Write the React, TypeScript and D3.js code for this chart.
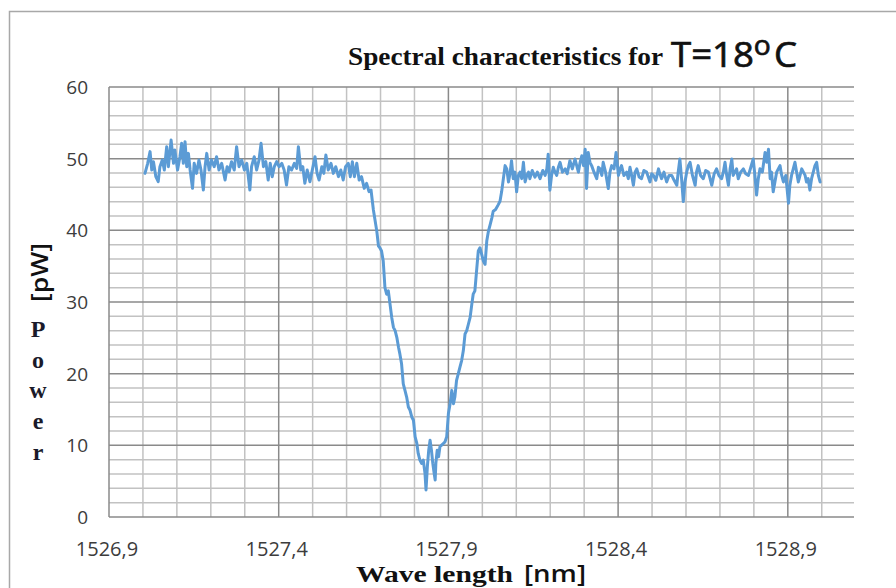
import React from "react";
import * as d3 from "d3";

// ---- Data ----
const leftWavelength = [
  1527.006, 1527.014, 1527.021, 1527.026, 1527.031, 1527.038, 1527.045, 1527.05, 1527.057, 1527.063,
  1527.07, 1527.075, 1527.083, 1527.09, 1527.094, 1527.102, 1527.109, 1527.114, 1527.119, 1527.124,
  1527.129, 1527.134, 1527.139, 1527.146, 1527.151, 1527.158, 1527.165, 1527.171, 1527.178, 1527.183,
  1527.188, 1527.195, 1527.202, 1527.21, 1527.217, 1527.224, 1527.232, 1527.242, 1527.248, 1527.254,
  1527.261, 1527.269, 1527.276, 1527.283, 1527.291, 1527.299, 1527.306, 1527.315, 1527.32, 1527.328,
  1527.335, 1527.342, 1527.348, 1527.355, 1527.362, 1527.369, 1527.375, 1527.381, 1527.387, 1527.394,
  1527.401, 1527.409, 1527.416, 1527.423, 1527.43, 1527.438, 1527.446, 1527.453, 1527.458, 1527.465,
  1527.471, 1527.477, 1527.484, 1527.492, 1527.499, 1527.507, 1527.513, 1527.519, 1527.527, 1527.533,
  1527.539, 1527.546, 1527.554, 1527.561, 1527.568, 1527.576, 1527.583, 1527.59, 1527.597, 1527.605,
  1527.611, 1527.617, 1527.623, 1527.63, 1527.637, 1527.644, 1527.652, 1527.659, 1527.666, 1527.672,
  1527.679,
];
const leftPower = [
  47.95, 49.35, 50.98, 48.42, 49.58, 47.49, 46.79, 48.88, 49.81, 48.42,
  51.67, 48.88, 52.6, 49.35, 51.21, 48.42, 50.28, 52.14, 49.35, 52.37,
  48.88, 50.74, 48.42, 45.86, 49.35, 47.95, 49.81, 48.42, 45.63, 48.88,
  50.74, 48.42, 49.81, 48.88, 50.28, 48.42, 49.35, 47.02, 48.88, 48.19,
  49.58, 48.42, 51.67, 48.88, 49.81, 48.42, 49.35, 45.63, 48.88, 50.28,
  48.42, 49.81, 52.14, 48.88, 49.58, 47.02, 49.35, 47.49, 48.88, 49.58,
  48.88, 49.35, 48.42, 46.33, 48.88, 48.42, 49.35, 48.65, 51.67, 48.42,
  48.88, 46.56, 48.42, 46.79, 48.42, 50.28, 47.95, 47.02, 48.88, 47.95,
  50.51, 48.42, 49.35, 47.95, 48.88, 47.49, 48.42, 47.02, 48.88, 49.35,
  47.49, 49.58, 47.49, 49.35, 47.02, 47.49, 45.86, 46.56, 45.4, 45.63,
  42.84,
];

const dipWavelength = [
  1527.689, 1527.694, 1527.698, 1527.703, 1527.708, 1527.713, 1527.718, 1527.723, 1527.728, 1527.733,
  1527.738, 1527.743, 1527.748, 1527.753, 1527.757, 1527.762, 1527.767, 1527.772, 1527.777, 1527.782,
  1527.787, 1527.792, 1527.797, 1527.802, 1527.807, 1527.811, 1527.816, 1527.821, 1527.826, 1527.831,
  1527.834, 1527.838, 1527.842, 1527.846, 1527.85, 1527.854, 1527.858, 1527.861, 1527.863, 1527.867,
  1527.871, 1527.875, 1527.88, 1527.885, 1527.89, 1527.895, 1527.9, 1527.905, 1527.91, 1527.915,
  1527.919, 1527.924, 1527.929, 1527.934, 1527.939, 1527.944, 1527.949, 1527.954, 1527.959, 1527.964,
  1527.969, 1527.973, 1527.978, 1527.983, 1527.988, 1527.993, 1527.998, 1528.003, 1528.008, 1528.013,
  1528.018, 1528.023, 1528.028, 1528.032, 1528.039, 1528.047, 1528.052, 1528.057,
];
const dipPower = [
  39.89, 37.81, 37.57, 37.11, 35.72, 32.02, 31.09, 31.56, 29.7, 27.85,
  26.46, 26.0, 25.07, 23.69, 22.76, 21.37, 18.59, 17.67, 16.74, 15.35,
  14.89, 13.96, 13.5, 11.19, 10.26, 8.87, 7.94, 7.48, 7.94, 6.09,
  3.78, 7.02, 9.33, 10.72, 9.33, 7.48, 6.09, 5.17, 7.48, 9.33,
  8.41, 9.8, 10.03, 10.26, 10.49, 11.19, 14.43, 15.81, 17.67, 15.81,
  16.74, 19.06, 19.98, 20.91, 21.83, 23.22, 25.54, 26.0, 26.93, 27.85,
  29.7, 31.09, 31.56, 34.33, 37.11, 37.57, 36.65, 35.72, 35.26, 38.5,
  39.89, 40.81, 41.74, 42.67, 42.9, 43.59, 44.06, 45.44,
];

const rightWavelength = [
  1528.067, 1528.072, 1528.077, 1528.082, 1528.086, 1528.091, 1528.096, 1528.101, 1528.106, 1528.111,
  1528.116, 1528.121, 1528.126, 1528.131, 1528.136, 1528.14, 1528.147, 1528.155, 1528.162, 1528.17,
  1528.178, 1528.185, 1528.19, 1528.194, 1528.199, 1528.204, 1528.209, 1528.214, 1528.219, 1528.224,
  1528.229, 1528.236, 1528.244, 1528.25, 1528.258, 1528.265, 1528.273, 1528.278, 1528.283, 1528.288,
  1528.293, 1528.298, 1528.303, 1528.307, 1528.312, 1528.317, 1528.322, 1528.329, 1528.337, 1528.342,
  1528.347, 1528.352, 1528.356, 1528.363, 1528.371, 1528.376, 1528.381, 1528.388, 1528.394, 1528.401,
  1528.406, 1528.41, 1528.417, 1528.425, 1528.43, 1528.435, 1528.44, 1528.445, 1528.45, 1528.455,
  1528.462, 1528.469, 1528.476, 1528.484, 1528.489, 1528.494, 1528.499, 1528.504, 1528.511, 1528.519,
  1528.523, 1528.528, 1528.535, 1528.543, 1528.55, 1528.558, 1528.565, 1528.573, 1528.577, 1528.582,
  1528.587, 1528.592, 1528.597, 1528.602, 1528.607, 1528.612, 1528.619, 1528.627, 1528.631, 1528.636,
  1528.643, 1528.651, 1528.658, 1528.666, 1528.671, 1528.676, 1528.683, 1528.69, 1528.697, 1528.705,
  1528.71, 1528.715, 1528.72, 1528.725, 1528.73, 1528.735, 1528.739, 1528.744, 1528.749, 1528.754,
  1528.761, 1528.769, 1528.776, 1528.784, 1528.791, 1528.798, 1528.803, 1528.808, 1528.813, 1528.818,
  1528.825, 1528.833, 1528.838, 1528.843, 1528.848, 1528.852, 1528.857, 1528.862, 1528.867, 1528.872,
  1528.877, 1528.882, 1528.887, 1528.894, 1528.902, 1528.906, 1528.911, 1528.916, 1528.921, 1528.926,
  1528.931, 1528.936, 1528.941, 1528.946, 1528.951, 1528.955, 1528.96, 1528.965, 1528.97, 1528.975,
  1528.98, 1528.985, 1528.99, 1528.995,
];
const rightPower = [
  49.03, 48.58, 46.75, 48.12, 49.72, 47.21, 48.12, 45.38, 47.66, 48.12,
  47.21, 49.49, 46.75, 47.66, 48.12, 47.21, 48.35, 47.43, 48.12, 47.21,
  48.35, 47.66, 48.58, 50.63, 45.61, 47.66, 48.8, 48.12, 47.66, 48.8,
  49.49, 48.12, 48.58, 47.89, 49.72, 48.58, 49.95, 49.03, 48.12, 49.49,
  50.4, 49.03, 51.32, 45.84, 50.86, 49.49, 49.03, 48.12, 47.21, 48.8,
  48.58, 47.66, 49.49, 48.12, 45.84, 48.12, 49.03, 48.58, 50.86, 47.66,
  48.58, 49.03, 47.66, 48.12, 47.21, 48.8, 47.66, 46.29, 48.12, 48.58,
  47.43, 47.21, 48.35, 48.12, 47.43, 46.75, 47.89, 47.66, 46.98, 48.58,
  47.89, 47.21, 48.12, 46.75, 47.66, 47.66, 46.98, 46.29, 48.12, 49.95,
  47.21, 44.01, 46.75, 48.12, 49.03, 49.49, 47.66, 46.29, 48.12, 49.03,
  47.66, 47.21, 48.35, 48.12, 47.21, 46.29, 47.89, 48.58, 47.66, 47.21,
  48.12, 49.49, 47.66, 46.29, 48.58, 49.95, 47.66, 48.12, 48.58, 47.21,
  48.12, 48.58, 47.89, 47.66, 48.8, 49.95, 47.66, 44.92, 47.21, 48.58,
  48.12, 50.86, 49.49, 51.32, 47.21, 48.12, 45.38, 46.75, 48.12, 48.58,
  49.03, 47.66, 46.75, 47.66, 43.78, 46.29, 47.66, 48.58, 49.49, 48.12,
  46.75, 47.66, 48.58, 48.12, 47.66, 46.75, 47.21, 45.61, 47.21, 48.12,
  49.03, 49.49, 47.66, 46.75,
];

const xTickValues = [1526.9, 1527.4, 1527.9, 1528.4, 1528.9];
const xTickLabels = ["1526,9", "1527,4", "1527,9", "1528,4", "1528,9"];
const yTickValues = [0, 10, 20, 30, 40, 50, 60];
const yTickLabels = ["0", "10", "20", "30", "40", "50", "60"];

const titleMain = "Spectral characteristics for";
const titleTemp = "T=18";
const titleDeg = "o";
const titleUnit = "C";
const yLabelUnit = "[pW]";
const yLabelLetters = ["P", "o", "w", "e", "r"];
const xLabelMain = "Wave length";
const xLabelUnit = "[nm]";

// ---- Layout ----
const W = 896;
const H = 588;
const plot = { left: 109, right: 854, top: 87, bottom: 517 };

export default function App() {
  const x = d3.scaleLinear().domain([1526.9, 1529.095]).range([plot.left, plot.right]);
  const y = d3.scaleLinear().domain([0, 60]).range([plot.bottom, plot.top]);

  const wl = [...leftWavelength, ...dipWavelength, ...rightWavelength];
  const pw = [...leftPower, ...dipPower, ...rightPower];
  const pts: [number, number][] = wl.map((w, i) => [w, pw[i]]);

  const line = d3
    .line<[number, number]>()
    .x((d) => x(d[0]))
    .y((d) => y(d[1]));

  const minorX = d3.range(0, 22).map((k) => 1526.9 + k * 0.1);
  const minorY = d3.range(0, 31).map((k) => k * 2);

  const isMajorX = (v: number) => xTickValues.some((t) => Math.abs(t - v) < 1e-6);
  const isMajorY = (v: number) => v % 10 === 0;

  const minorColor = "#c2c2c2";
  const majorColor = "#8a8a8a";

  const serif = "'Liberation Serif', 'Times New Roman', serif";
  const sans = "'Open Sans', 'DejaVu Sans', sans-serif";

  return (
    <svg
      width={W}
      height={H}
      style={{ position: "absolute", left: 0, top: 0, display: "block", background: "#fff" }}
    >
      <rect x={0} y={0} width={W} height={H} fill="#fff" />
      {/* chart frame */}
      <rect x={9.5} y={11.5} width={W + 10} height={H + 10} fill="none" stroke="#a8a8a8" strokeWidth={1.5} />

      {/* horizontal grid */}
      {minorY.filter((v) => !isMajorY(v)).map((v) => (
        <line key={"hy" + v} x1={plot.left} x2={plot.right} y1={y(v)} y2={y(v)} stroke={minorColor} strokeWidth={1.5} />
      ))}
      {/* vertical grid */}
      {minorX.filter((v) => !isMajorX(v)).map((v, i) => (
        <line key={"vx" + i} x1={x(v)} x2={x(v)} y1={plot.top} y2={plot.bottom} stroke={minorColor} strokeWidth={1.5} />
      ))}
      {yTickValues.map((v) => (
        <line key={"My" + v} x1={plot.left} x2={plot.right} y1={y(v)} y2={y(v)} stroke={majorColor} strokeWidth={1.5} />
      ))}
      {xTickValues.map((v) => (
        <line key={"Mx" + v} x1={x(v)} x2={x(v)} y1={plot.top} y2={plot.bottom} stroke={majorColor} strokeWidth={1.5} />
      ))}

      {/* data */}
      <path d={line(pts) || ""} fill="none" stroke="#5b9bd5" strokeWidth={3} strokeLinejoin="round" strokeLinecap="round" />

      {/* y tick labels */}
      {yTickValues.map((v, i) => (
        <text key={"yl" + v} x={88} y={y(v) + 7} textAnchor="end" fontFamily={sans} fontSize={19} fill="#3c3c3c">
          {yTickLabels[i]}
        </text>
      ))}
      {/* x tick labels */}
      {xTickValues.map((v, i) => (
        <text key={"xl" + v} x={x(v) - 2} y={556} textAnchor="middle" fontFamily={sans} fontSize={20} fill="#3c3c3c">
          {xTickLabels[i]}
        </text>
      ))}

      {/* title */}
      <text x={348} y={65} fontFamily={serif} fontWeight="bold" fontSize={25} fill="#111" textLength={315} lengthAdjust="spacingAndGlyphs">
        {titleMain}
      </text>
      <text
        x={671}
        y={67}
        fontFamily={sans}
        fontSize={35}
        fill="#111"
        stroke="#111"
        strokeWidth={0.7}
        textLength={126}
        lengthAdjust="spacingAndGlyphs"
      >
        {titleTemp}
        <tspan fontSize={27} dy={-12}>{titleDeg}</tspan>
        <tspan fontSize={35} dy={12} dx={3}>{titleUnit}</tspan>
      </text>

      {/* y axis label */}
      <text
        transform="translate(48,272.5) rotate(-90)"
        textAnchor="middle"
        fontFamily={sans}
        fontWeight={600}
        fontSize={23}
        fill="#111"
        textLength={59}
        lengthAdjust="spacingAndGlyphs"
      >
        {yLabelUnit}
      </text>
      {yLabelLetters.map((c, i) => (
        <text key={"yc" + i} x={38} y={337 + i * 30.7} textAnchor="middle" fontFamily={serif} fontWeight="bold" fontSize={24} fill="#1a1a2a">
          {c}
        </text>
      ))}

      {/* x axis label */}
      <text x={356} y={582} fontFamily={serif} fontWeight="bold" fontSize={24} fill="#111" textLength={157} lengthAdjust="spacingAndGlyphs">
        {xLabelMain}
      </text>
      <text x={524} y={582} fontFamily={sans} fontWeight={600} fontSize={23} fill="#111" textLength={62} lengthAdjust="spacingAndGlyphs">
        {xLabelUnit}
      </text>
    </svg>
  );
}
